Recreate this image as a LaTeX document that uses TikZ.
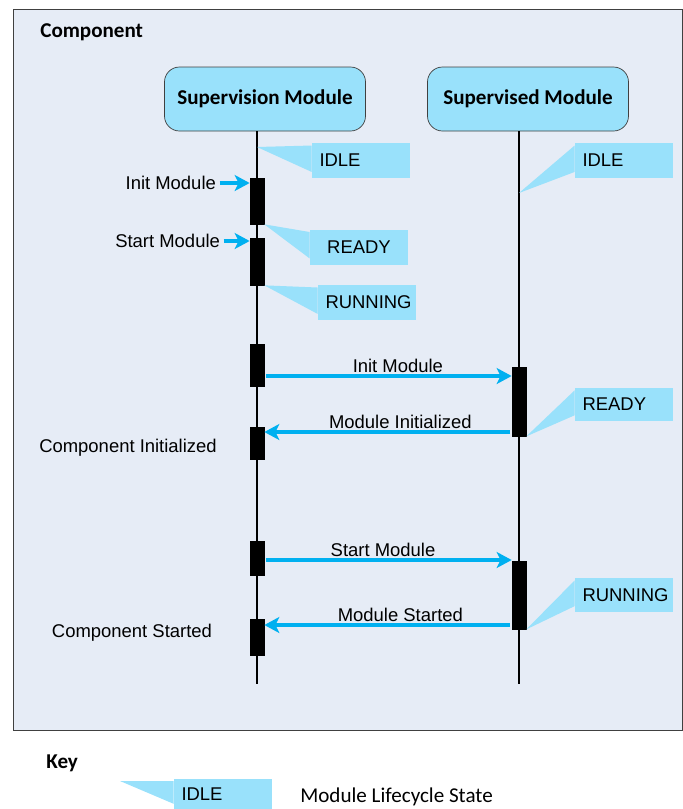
\documentclass[tikz,border=0pt]{standalone}
\usepackage{fontspec}
\setmainfont{Liberation Sans}
\newfontfamily\calibri{Carlito}
\usetikzlibrary{arrows.meta,calc,positioning}
\definecolor{framebg}{RGB}{230,236,246}
\definecolor{statefill}{RGB}{153,225,251}
\definecolor{msgblue}{RGB}{0,176,240}
\definecolor{edge}{RGB}{64,64,64}
\tikzset{
    modbox/.style={draw=edge,fill=statefill,rounded corners=0.30cm,minimum width=4.02cm,minimum height=1.28cm,font=\calibri\bfseries\fontsize{12}{14}\selectfont},
    actbar/.style={fill=black,draw=black,minimum width=0.28cm,inner sep=0pt},
    msg/.style={draw=msgblue,line width=1.8pt,shorten <=0.03cm,-{Stealth[length=0.30cm,width=0.32cm,inset=0.08cm]}},
    lbl/.style={font=\fontsize{10.5}{12}\selectfont,inner sep=1pt},
    statebox/.style={fill=statefill,minimum width=1.96cm,minimum height=0.70cm,text width=1.66cm,inner xsep=0.15cm,align=left,font=\fontsize{10.5}{12}\selectfont},
    heading/.style={anchor=west,inner sep=0pt,font=\calibri\bfseries\fontsize{12}{14}\selectfont}
}
\begin{document}
\begin{tikzpicture}
    \useasboundingbox (0,0) rectangle (13.66,-16.18);
    \draw[edge,fill=framebg] (0.26,-0.18) rectangle (13.64,-14.60);
    \node[heading] (comp) at (0.80,-0.64) {Component};

    \node[modbox] (sup) at (5.30,-1.98) {Supervision Module};
    \node[modbox] (mod) at (10.56,-1.98) {Supervised Module};

    % lifelines
    \coordinate (supEnd) at (5.14,-13.68);
    \coordinate (modEnd) at (10.38,-13.68);
    \draw[line width=1.1pt] (sup.south -| supEnd) -- (supEnd);
    \draw[line width=1.1pt] (mod.south -| modEnd) -- (modEnd);

    \node[actbar,minimum height=0.92cm] (b1) at (5.14,-4.02) {};
    \node[actbar,minimum height=0.94cm] (b2) at (5.14,-5.23) {};
    \node[actbar,minimum height=0.84cm] (b3) at (5.14,-7.30) {};
    \node[actbar,minimum height=0.64cm] (b4) at (5.14,-8.86) {};
    \node[actbar,minimum height=0.68cm] (b5) at (5.14,-11.16) {};
    \node[actbar,minimum height=0.72cm] (b6) at (5.14,-12.74) {};
    \node[actbar,minimum height=1.38cm] (r1) at (10.38,-8.03) {};
    \node[actbar,minimum height=1.36cm] (r2) at (10.38,-11.90) {};

    % lifecycle states
    \coordinate (tipA) at (5.14,-2.94);
    \coordinate (tipB) at (10.38,-3.86);
    \coordinate (tipK) at (2.40,-15.62);
    \node[statebox] (idleA) at (7.22,-3.21) {IDLE};
    \node[statebox,align=center] (readyA) at (7.18,-4.94) {READY};
    \node[statebox] (runA) at (7.34,-6.05) {RUNNING};
    \node[statebox] (idleB) at (12.48,-3.21) {IDLE};
    \node[statebox,minimum height=0.66cm] (readyB) at (12.48,-8.09) {READY};
    \node[statebox,minimum height=0.68cm] (runB) at (12.48,-11.90) {RUNNING};
    \node[statebox,minimum height=0.60cm] (idleK) at (4.46,-15.88) {IDLE};
    \foreach \t/\s in {tipA/idleA,b1.south east/readyA,b2.south east/runA,tipB/idleB,r1.south east/readyB,r2.south east/runB,tipK/idleK}
        \fill[statefill] (\t) -- ($(\s.north west)!0.08!(\s.south west)$) -- ($(\s.north west)!0.82!(\s.south west)$) -- cycle;

    % messages
    \node[lbl,anchor=east] (inInit) at (4.36,-3.66) {Init Module};
    \draw[msg] (inInit.east) -- (inInit.east -| b1.west);
    \node[lbl,anchor=east] (inStart) at (4.44,-4.82) {Start Module};
    \draw[msg] (inStart.east) -- (inStart.east -| b2.west);

    \coordinate (m1) at ([yshift=-0.22cm]b3.east);
    \draw[msg] (m1) -- (m1 -| r1.west) node[lbl,pos=0.54,above] {Init Module};
    \coordinate (m2) at ([yshift=-0.61cm]r1.west);
    \draw[msg] (m2) -- (m2 -| b4.east) node[lbl,pos=0.45,above] {Module Initialized};
    \coordinate (m3) at ([yshift=-0.04cm]b5.east);
    \draw[msg] (m3) -- (m3 -| r2.west) node[lbl,pos=0.48,above] {Start Module};
    \coordinate (m4) at ([yshift=-0.60cm]r2.west);
    \draw[msg] (m4) -- (m4 -| b6.east) node[lbl,pos=0.45,above] {Module Started};

    \node[lbl] (cInit) at (2.56,-8.96) {Component Initialized};
    \node[lbl] (cStart) at (2.64,-12.66) {Component Started};

    % key
    \node[heading] (key) at (0.92,-15.26) {Key};
    \node[anchor=west,inner sep=0pt,font=\calibri\fontsize{12}{14}\selectfont] (keyText) at (6.00,-15.94) {Module Lifecycle State};
\end{tikzpicture}
\end{document}
